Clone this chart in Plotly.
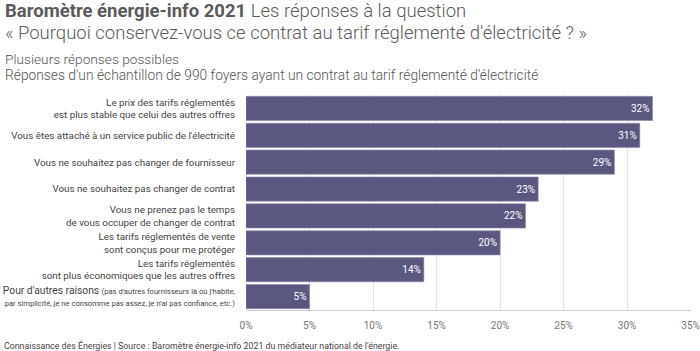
import plotly.graph_objects as go

categories = [
    "Le prix des tarifs réglementés<br>est plus stable que celui des autres offres",
    "Vous êtes attaché à un service public de l'électricité",
    "Vous ne souhaitez pas changer de fournisseur",
    "Vous ne souhaitez pas changer de contrat",
    "Vous ne prenez pas le temps<br>de vous occuper de changer de contrat",
    "Les tarifs réglementés de vente<br>sont conçus pour me protéger",
    "Les tarifs réglementés<br>sont plus économiques que les autres offres",
    "<span style='font-size:10.3px'>Pour d'autres raisons</span> <span style='font-size:7.6px'>(pas d'autres fournisseurs là où j'habite,</span><br><span style='font-size:7.6px'>par simplicité, je ne consomme pas assez, je n'ai pas confiance, etc.)</span>",
]
values = [32, 31, 29, 23, 22, 20, 14, 5]
tick_vals = [0, 5, 10, 15, 20, 25, 30, 35]
tick_labels = ["0%", "5%", "10%", "15%", "20%", "25%", "30%", "35%"]

W, H = 700, 351
XMAX = 35.03
L, T, B = 246, 95, 41
R = W - L - 445 * XMAX / 35
PW, PH = W - L - R, H - T - B

def px(x):
    return (x - L) / PW

def py(y):
    return (H - B - y) / PH

BAR = "#5b5880"

fig = go.Figure(go.Bar(
    x=values, y=categories, orientation="h",
    marker=dict(color=BAR, line=dict(color="#8a88a6", width=0.6)),
    text=[f"{v}%" for v in values], textposition="inside", insidetextanchor="end",
    textfont=dict(color="white", size=10, family="Roboto"),
    hoverinfo="skip",
))

fig.update_layout(
    width=W, height=H, margin=dict(l=L, r=R, t=T, b=B, autoexpand=False),
    paper_bgcolor="white", plot_bgcolor="white",
    bargap=0.1, showlegend=False,
    font=dict(family="Roboto", color="#444"),
    xaxis=dict(range=[0, XMAX], tickvals=tick_vals, ticktext=tick_labels,
               showgrid=True, gridcolor="#e2e2e2", gridwidth=1, zeroline=False,
               showline=True, linecolor="#cccccc", linewidth=1, automargin=False,
               tickfont=dict(size=10, color="#777"), ticks="", ticklabelstandoff=6),
    yaxis=dict(autorange="reversed", tickfont=dict(size=9.8, color="#444"),
               ticks="", ticklabelstandoff=10, showgrid=False, automargin=False),
)

anns = [
    dict(x=px(3), y=py(-2), text="<b>Baromètre énergie-info 2021</b> Les réponses à la question",
         font=dict(size=18.5, color="#5a5a5a", family="Roboto", weight=300)),
    dict(x=px(3), y=py(19.5), text="« Pourquoi conservez-vous ce contrat au tarif réglementé d'électricité ? »",
         font=dict(size=18.5, color="#5a5a5a", family="Roboto", weight=300)),
    dict(x=px(3), y=py(49), text="Plusieurs réponses possibles",
         font=dict(size=13.7, color="#555", family="Roboto", weight=300)),
    dict(x=px(3), y=py(65), text="Réponses d'un échantillon de 990 foyers ayant un contrat au tarif réglementé d'électricité",
         font=dict(size=13.8, color="#555", family="Roboto", weight=300)),
    dict(x=px(2), y=py(337.5), text="Connaissance des Énergies | Source : Baromètre énergie-info 2021 du médiateur national de l'énergie.",
         font=dict(size=8.8, color="#444", family="Roboto")),
]
for a in anns:
    fig.add_annotation(xref="paper", yref="paper", xanchor="left", yanchor="top",
                       showarrow=False, align="left", **a)

fig.write_html("out.html")
